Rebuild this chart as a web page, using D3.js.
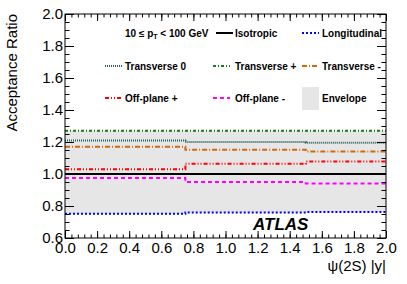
<!DOCTYPE html>
<html><head><meta charset="utf-8">
<script src="https://cdn.jsdelivr.net/npm/d3@7/dist/d3.min.js"></script>
<style>
body{margin:0;background:#fff}
svg{display:block}
text{font-family:"Liberation Sans",Arial,Helvetica,sans-serif}
</style>
</head><body>
<svg id="chart" width="407" height="284"></svg>
<script>
// ---- data ----
const binEdges = [0, 0.75, 1.5, 2.0];
const isotropic = [1.0, 1.0, 1.0];
const longitudinal = [0.752, 0.760, 0.762];
const transverse0 = [1.21, 1.20, 1.196];
const transversePlus = [1.27, 1.27, 1.27];
const transverseMinus = [1.17, 1.152, 1.141];
const offPlanePlus = [1.03, 1.064, 1.078];
const offPlaneMinus = [0.975, 0.950, 0.941];
const xTicks = [0.0, 0.2, 0.4, 0.6, 0.8, 1.0, 1.2, 1.4, 1.6, 1.8, 2.0];
const yTicks = [0.6, 0.8, 1.0, 1.2, 1.4, 1.6, 1.8, 2.0];
const xMinorStep = 0.04, yMinorStep = 0.05;
const xTitle = "ψ(2S) |y|";
const yTitle = "Acceptance Ratio";
const legendNames = ["Isotropic", "Longitudinal", "Transverse 0", "Transverse +", "Transverse -", "Off-plane +", "Off-plane -", "Envelope"];

// ---- styles ----
const series = [
  {name: legendNames[0], v: isotropic, color: "#000000", dash: null, w: 2},
  {name: legendNames[1], v: longitudinal, color: "#0000ff", dash: "2,2", w: 2},
  {name: legendNames[2], v: transverse0, color: "#2f5f5f", dash: "1,1", w: 2},
  {name: legendNames[3], v: transversePlus, color: "#1a7a1a", dash: "3,2,1,2", w: 2},
  {name: legendNames[4], v: transverseMinus, color: "#d06a10", dash: "5,2,1,2", w: 2},
  {name: legendNames[5], v: offPlanePlus, color: "#ff0000", dash: "4,2,1,2,1,2", w: 2},
  {name: legendNames[6], v: offPlaneMinus, color: "#ff00ff", dash: "4,3", w: 2}
];

const svg = d3.select("#chart");
const L = 65, R = 386, T = 14, B = 238;
const x = d3.scaleLinear().domain([0, 2]).range([L, R]);
const y = d3.scaleLinear().domain([0.6, 2.0]).range([B, T]);

const stepPts = vals => binEdges.map((e, i) => ({x: e, v: vals[Math.min(i, vals.length - 1)]}));

// envelope
const envMax = binEdges.slice(0, -1).map((_, i) => d3.max(series, s => s.v[i]));
const envMin = binEdges.slice(0, -1).map((_, i) => d3.min(series, s => s.v[i]));
const envPts = binEdges.map((e, i) => ({x: e, hi: envMax[Math.min(i, envMax.length - 1)], lo: envMin[Math.min(i, envMin.length - 1)]}));
svg.append("path").datum(envPts)
  .attr("fill", "#e6e6e6")
  .attr("d", d3.area().curve(d3.curveStepAfter).x(d => x(d.x)).y0(d => y(d.lo)).y1(d => y(d.hi)));

const line = d3.line().curve(d3.curveStepAfter).x(d => x(d.x)).y(d => y(d.v));
[...series.slice(1), series[0]].forEach(s => {
  svg.append("path").datum(stepPts(s.v))
    .attr("fill", "none").attr("stroke", s.color).attr("stroke-width", s.w)
    .attr("stroke-dasharray", s.dash).attr("d", line);
});

// ---- axes ----
const xMinor = d3.range(0, 2.0001, xMinorStep);
const yMinor = d3.range(0.6, 2.0001, yMinorStep);
const fmt = d3.format(".1f");
function styleAxis(g) { g.select(".domain").remove(); g.selectAll("line").attr("stroke", "#000"); }

svg.append("g").attr("transform", `translate(0,${B})`)
  .call(d3.axisBottom(x).tickValues(xMinor).tickSize(-3.5).tickFormat("")).call(styleAxis);
svg.append("g").attr("transform", `translate(0,${B})`)
  .call(d3.axisBottom(x).tickValues(xTicks).tickSize(-7).tickPadding(4).tickFormat(fmt))
  .call(styleAxis)
  .call(g => g.selectAll("text").attr("font-size", 15).attr("fill", "#000").attr("font-family", "'Liberation Sans',Arial,sans-serif"));
svg.append("g").attr("transform", `translate(0,${T})`)
  .call(d3.axisTop(x).tickValues(xMinor).tickSize(-3.5).tickFormat("")).call(styleAxis);
svg.append("g").attr("transform", `translate(0,${T})`)
  .call(d3.axisTop(x).tickValues(xTicks).tickSize(-7).tickFormat("")).call(styleAxis);

svg.append("g").attr("transform", `translate(${L},0)`)
  .call(d3.axisLeft(y).tickValues(yMinor).tickSize(-4.5).tickFormat("")).call(styleAxis);
svg.append("g").attr("transform", `translate(${L},0)`)
  .call(d3.axisLeft(y).tickValues(yTicks).tickSize(-9).tickPadding(2).tickFormat(fmt))
  .call(styleAxis)
  .call(g => g.selectAll("text").attr("font-size", 15).attr("fill", "#000").attr("font-family", "'Liberation Sans',Arial,sans-serif"));
svg.append("g").attr("transform", `translate(${R},0)`)
  .call(d3.axisRight(y).tickValues(yMinor).tickSize(-4.5).tickFormat("")).call(styleAxis);
svg.append("g").attr("transform", `translate(${R},0)`)
  .call(d3.axisRight(y).tickValues(yTicks).tickSize(-9).tickFormat("")).call(styleAxis);

svg.append("rect").attr("x", L).attr("y", T).attr("width", R - L).attr("height", B - T)
  .attr("fill", "none").attr("stroke", "#000").attr("stroke-width", 1);

// titles
svg.append("text").attr("x", R).attr("y", 271).attr("text-anchor", "end")
  .attr("font-size", 15).text(xTitle);
svg.append("text").attr("transform", `translate(17,${T}) rotate(-90)`).attr("text-anchor", "end")
  .attr("font-size", 15).text(yTitle);

svg.append("text").attr("x", 253).attr("y", 230).attr("font-size", 17)
  .attr("font-weight", "bold").attr("font-style", "italic").text("ATLAS");

// ---- legend ----
const rowY = [33, 66, 98];
const colLine = [null, 216, 302];
const colLine2 = [105, 213, 302];
const colText = [125, 235, 322];
const lg = svg.append("g").attr("font-size", 10).attr("font-weight", "bold");

const hdr = lg.append("text").attr("x", colText[0]).attr("y", rowY[0] + 3.6);
hdr.append("tspan").text("10 ≤ p");
hdr.append("tspan").attr("font-size", 7).attr("dy", 2.5).text("T");
hdr.append("tspan").attr("dy", -2.5).text(" < 100 GeV");

const slots = [
  {s: series[0], lx: colLine[1], tx: colText[1], r: 0},
  {s: series[1], lx: colLine[2], tx: colText[2], r: 0},
  {s: series[2], lx: colLine2[0], tx: colText[0], r: 1},
  {s: series[3], lx: colLine2[1], tx: colText[1], r: 1},
  {s: series[4], lx: colLine2[2], tx: colText[2], r: 1},
  {s: series[5], lx: colLine2[0], tx: colText[0], r: 2},
  {s: series[6], lx: colLine2[1], tx: colText[1], r: 2}
];
slots.forEach(d => {
  lg.append("line").attr("x1", d.lx).attr("x2", d.lx + 17).attr("y1", rowY[d.r]).attr("y2", rowY[d.r])
    .attr("stroke", d.s.color).attr("stroke-width", d.s.w).attr("stroke-dasharray", d.s.dash);
  lg.append("text").attr("x", d.tx).attr("y", rowY[d.r] + 3.6).text(d.s.name);
});
lg.append("rect").attr("x", 302).attr("y", 87).attr("width", 17).attr("height", 23).attr("fill", "#e6e6e6");
lg.append("text").attr("x", colText[2]).attr("y", rowY[2] + 3.6).text(legendNames[7]);
</script>
</body></html>
